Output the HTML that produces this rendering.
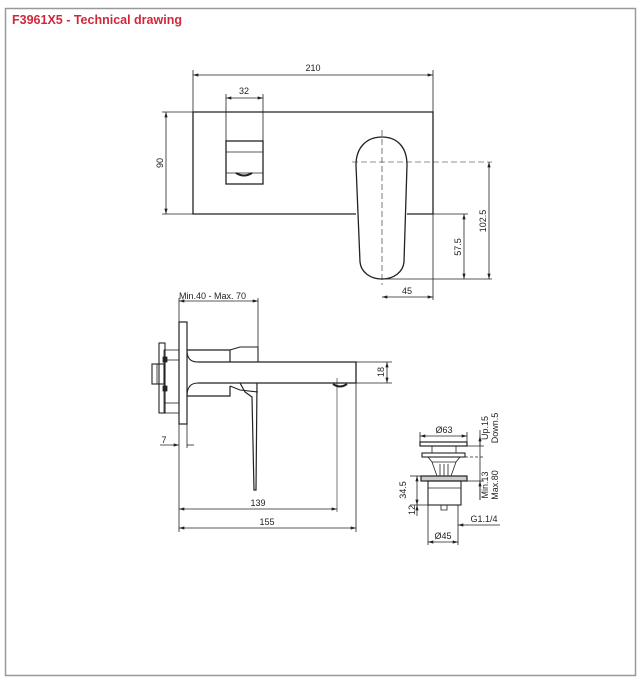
<!DOCTYPE html>
<html><head><meta charset="utf-8"><style>
html,body{margin:0;padding:0;background:#fff;}
svg{display:block;}
text{font-family:"Liberation Sans",sans-serif;fill:#222;}
</style></head><body>
<svg width="643" height="682" viewBox="0 0 643 682" xmlns="http://www.w3.org/2000/svg">
<defs>
<marker id="a" viewBox="0 0 10 6" refX="10" refY="3" markerWidth="7" markerHeight="4" orient="auto-start-reverse"><path d="M0,0L10,3L0,6z" fill="#222"/></marker>
</defs>
<rect x="5.5" y="8.5" width="630" height="667" fill="none" stroke="#999" stroke-width="1.5"/>
<text x="12" y="24" font-size="12.5" font-weight="bold" style="fill:#d0283a">F3961X5 - Technical drawing</text>

<g stroke="#222" fill="none" stroke-width="0.8">
<line x1="193" y1="70" x2="193" y2="112"/><line x1="433" y1="70" x2="433" y2="112"/>
<line x1="193" y1="75" x2="433" y2="75" marker-start="url(#a)" marker-end="url(#a)"/>
<line x1="226" y1="94" x2="226" y2="141"/><line x1="263" y1="94" x2="263" y2="141"/>
<line x1="226" y1="98" x2="263" y2="98" marker-start="url(#a)" marker-end="url(#a)"/>
<line x1="162" y1="112" x2="193" y2="112"/><line x1="162" y1="214" x2="193" y2="214"/>
<line x1="166" y1="112" x2="166" y2="214" marker-start="url(#a)" marker-end="url(#a)"/>
<path d="M356,214 H193 V112 H433 V214 H407" stroke-width="1.3"/>
<rect x="226" y="141" width="37" height="43" stroke-width="1.3"/>
<line x1="226" y1="152" x2="263" y2="152"/><line x1="226" y1="173" x2="263" y2="173"/>
<path d="M236,173 Q244,178 252,173" stroke-width="2"/>
<path d="M382,137 C397,137 407,147 407,165 L404,262 C403,272 394,279 382,279 C370,279 361,272 360,262 L356,165 C356,147 367,137 382,137 Z" stroke-width="1.3" fill="#fff"/>
<line x1="382" y1="130" x2="382" y2="285" stroke-dasharray="6,3" stroke-width="0.6"/>
<line x1="352" y1="162" x2="492" y2="162" stroke-dasharray="6,3" stroke-width="0.6"/>
<line x1="433" y1="214" x2="468" y2="214"/>
<line x1="382" y1="279" x2="492" y2="279"/>
<line x1="489" y1="162" x2="489" y2="279" marker-start="url(#a)" marker-end="url(#a)"/>
<line x1="464" y1="214" x2="464" y2="279" marker-start="url(#a)" marker-end="url(#a)"/>
<line x1="433" y1="214" x2="433" y2="300"/>
<line x1="382" y1="297" x2="433" y2="297" marker-start="url(#a)" marker-end="url(#a)"/>

<line x1="179" y1="301" x2="258" y2="301" marker-start="url(#a)" marker-end="url(#a)"/>
<line x1="179" y1="298" x2="179" y2="532"/>
<line x1="258" y1="298" x2="258" y2="348"/>
<rect x="179" y="322" width="8" height="102" stroke-width="1.2" fill="#fff"/>
<rect x="164" y="350" width="15" height="63" />
<rect x="159" y="343" width="6" height="70" stroke-width="1.1"/>
<rect x="152" y="364" width="12" height="20" stroke-width="1.1"/>
<line x1="157" y1="364" x2="157" y2="384"/>
<line x1="164" y1="360" x2="179" y2="360"/><line x1="164" y1="403" x2="179" y2="403"/>
<rect x="163" y="357" width="4" height="5" fill="#222"/><rect x="163" y="386" width="4" height="5" fill="#222"/>
<path d="M187,350 H230 V362 M187,396 H230 V386" stroke-width="1.2"/>
<path d="M187,350 C187,358 190,362 198,362 M187,396 C187,388 190,383 198,383" stroke-width="1.1"/>
<path d="M230,350 L240,347 H258 V362 M230,386 L240,390 L258,392" stroke-width="1.1"/>
<path d="M198,362 H356 V383 H198" stroke-width="1.3"/>
<path d="M333,384 Q340,389 347,384" stroke-width="2"/>
<path d="M240,383 L245,392 L252,397 L254,490 L256,490 L257,383" stroke-width="1.2"/>
<line x1="350" y1="362" x2="392" y2="362"/><line x1="350" y1="383" x2="392" y2="383"/>
<line x1="387" y1="362" x2="387" y2="383" marker-start="url(#a)" marker-end="url(#a)"/>
<line x1="187" y1="424" x2="187" y2="448"/>
<line x1="160" y1="445" x2="179" y2="445" marker-end="url(#a)"/>
<line x1="187" y1="445" x2="194" y2="445"/>
<line x1="337" y1="378" x2="337" y2="512" stroke-width="0.6"/>
<line x1="179" y1="509" x2="337" y2="509" marker-start="url(#a)" marker-end="url(#a)"/>
<line x1="356" y1="383" x2="356" y2="532"/>
<line x1="179" y1="528" x2="356" y2="528" marker-start="url(#a)" marker-end="url(#a)"/>

<line x1="420" y1="432" x2="420" y2="442"/><line x1="467" y1="432" x2="467" y2="442"/>
<line x1="420" y1="436" x2="467" y2="436" marker-start="url(#a)" marker-end="url(#a)"/>
<rect x="420" y="442" width="47" height="4" stroke-width="1.2"/>
<line x1="467" y1="446" x2="484" y2="446"/>
<path d="M432,446 V453 M456,446 V453" />
<rect x="422" y="453" width="43" height="4" stroke-width="1.1"/>
<path d="M428,457 H460 L456,462 H432 Z" />
<path d="M432,462 L437,476 M456,462 L451,476 M440,464 V476 M448,464 V476 M444,464 V476"/>
<line x1="465" y1="457" x2="484" y2="457" stroke-dasharray="3,2"/>
<rect x="421" y="476" width="46" height="5" stroke-width="1.2" fill="#ccc"/>
<line x1="410" y1="476" x2="421" y2="476"/>
<rect x="428" y="481" width="33" height="24" stroke-width="1.1"/>
<line x1="428" y1="488" x2="461" y2="488"/>
<path d="M441,505 V510 H447 V505"/>
<path d="M428,505 V520 M458,505 V545"/>
<line x1="428" y1="520" x2="428" y2="545"/>
<line x1="417" y1="476" x2="417" y2="505" marker-start="url(#a)" marker-end="url(#a)"/>
<line x1="410" y1="505" x2="428" y2="505"/>
<line x1="417" y1="516" x2="417" y2="505" marker-end="url(#a)"/>
<line x1="480" y1="430" x2="480" y2="500"/>
<line x1="480" y1="436" x2="480" y2="446" marker-start="url(#a)"/>
<line x1="480" y1="481" x2="480" y2="500" marker-start="url(#a)"/>
<line x1="461" y1="481" x2="484" y2="481"/>
<line x1="458" y1="525" x2="500" y2="525" marker-start="url(#a)"/>
<line x1="428" y1="542" x2="458" y2="542" marker-start="url(#a)" marker-end="url(#a)"/>
</g>

<g font-size="9">
<text x="313" y="71" text-anchor="middle">210</text>
<text x="244" y="94" text-anchor="middle">32</text>
<text transform="translate(163,163) rotate(-90)" text-anchor="middle">90</text>
<text transform="translate(486,221) rotate(-90)" text-anchor="middle">102.5</text>
<text transform="translate(461,247) rotate(-90)" text-anchor="middle">57.5</text>
<text x="407" y="294" text-anchor="middle">45</text>
<text x="179" y="299">Min.40 - Max. 70</text>
<text transform="translate(384,372) rotate(-90)" text-anchor="middle">18</text>
<text x="164" y="443" text-anchor="middle">7</text>
<text x="258" y="506" text-anchor="middle">139</text>
<text x="267" y="525" text-anchor="middle">155</text>
<text x="444" y="433" text-anchor="middle">Ø63</text>
<text transform="translate(488,428) rotate(-90)" text-anchor="middle">Up.15</text>
<text transform="translate(498,428) rotate(-90)" text-anchor="middle">Down.5</text>
<text transform="translate(488,485) rotate(-90)" text-anchor="middle">Min.13</text>
<text transform="translate(498,485) rotate(-90)" text-anchor="middle">Max.80</text>
<text transform="translate(406,490) rotate(-90)" text-anchor="middle">34.5</text>
<text transform="translate(415,510) rotate(-90)" text-anchor="middle">12</text>
<text x="484" y="522" text-anchor="middle">G1.1/4</text>
<text x="443" y="539" text-anchor="middle">Ø45</text>
</g>
</svg>
</body></html>
